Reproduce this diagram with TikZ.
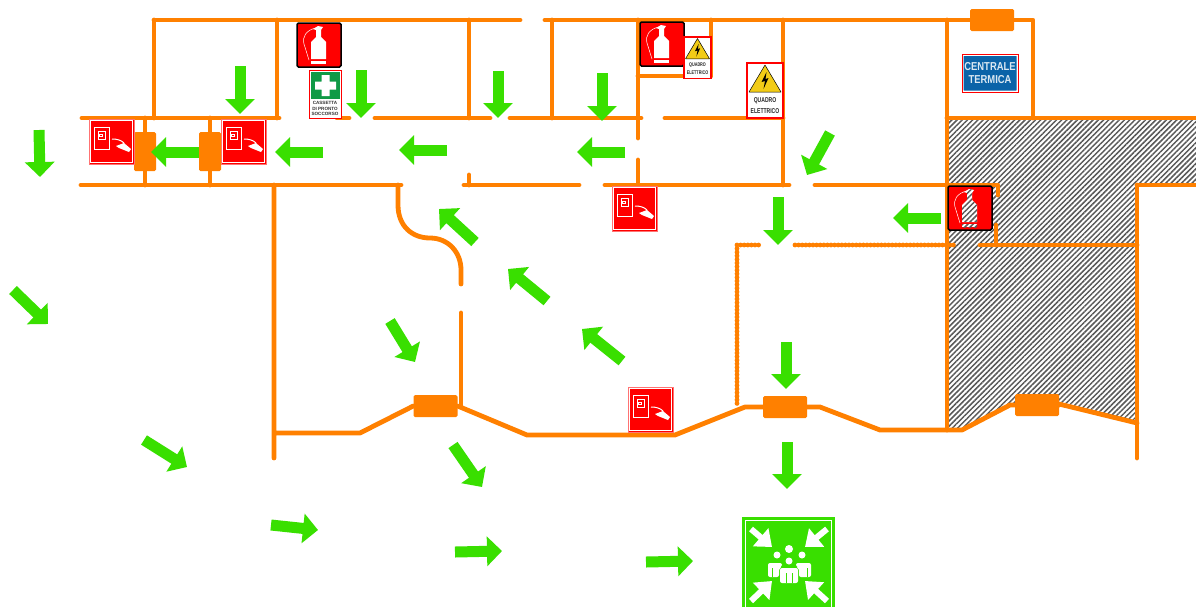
\documentclass[tikz,border=0pt]{standalone}
\usepackage{fontspec}
\setmainfont{Liberation Sans}
\usetikzlibrary{arrows.meta,patterns.meta}
\definecolor{wallorange}{HTML}{FF8000}
\definecolor{gogreen}{HTML}{39DF00}
\definecolor{signred}{HTML}{FF0000}
\definecolor{signblue}{HTML}{0A63A8}
\definecolor{aidgreen}{HTML}{0F9A46}
\definecolor{warnyellow}{HTML}{F2CC17}
\tikzset{
  wall/.style={draw=wallorange,line width=4.8pt,line cap=round,line join=round},
  beadwall/.style={wall,dash pattern=on 0pt off 3.6pt},
  door/.style={fill=wallorange,rounded corners=1.5pt,minimum width=44pt,minimum height=22pt,inner sep=0pt},
  sidedoor/.style={door,minimum width=22pt,minimum height=39pt},
  way/.style={draw=gogreen,line width=11pt,-{Triangle[length=15pt,width=29pt,sep=0pt]},gogreen},
  meet/.style={draw=white,line width=6pt,-{Triangle[length=15pt,width=23pt,sep=0pt]},white},
  hatched/.style={pattern={Lines[angle=45,distance=3.7pt,line width=1.5pt]},pattern color=black!65},
  ext body/.style={fill=white},
  pics/hose/.style={code={
    \draw[signred!55,fill=signred,line width=.6pt] (0,0) rectangle (45,45);
    \draw[white,line width=.7pt] (1.5,1.5) rectangle (43.5,43.5);
    \draw[white,line width=.6pt] (5,8) rectangle (20,30) (9,12) rectangle (16,20);
    \draw[white,line width=.6pt] (10.5,15) rectangle (13,17.5);
    \draw[white,line width=1pt] (23,20) .. controls (28,20) and (32,21) .. (35,24);
    \fill[white] (27,27) -- (35,24) -- (42,30) -- (40,33) -- (30,29) -- cycle;
  }},
  pics/extinguisher/.style={code={
    \draw[black,fill=signred,line width=1.5pt,rounded corners=1.5pt] (0,0) rectangle (44,44);
    \path[ext body] (14,36) -- (14,19) -- (19,14) -- (19,7) -- (16,6) -- (21,3) -- (26,4) -- (24,7) -- (24,14) -- (29,19) -- (29,36) -- cycle;
    \path[ext body] (14,38) rectangle (29,41);
    \draw[white,line width=.5pt] (19,5) .. controls (9,7) and (5,14) .. (7,21) -- (12,37);
  }},
  pics/aid/.style={code={
    \draw[signred,fill=white,line width=.8pt] (0,0) rectangle (32,48);
    \fill[aidgreen] (2,2) rectangle (31,29);
    \fill[white] (12.5,5) rectangle (20.5,26) (6,11.5) rectangle (27,19.5);
    \node[align=center,inner sep=0pt,font=\bfseries\fontsize{4.6}{5.1}\selectfont,text=black!80] (aidtext) at (16,38.5) {CASSETTA\\DI PRONTO\\SOCCORSO};
  }},
  pics/panel/.style={code={
    \draw[signred,fill=white,line width=1.3pt] (0,0) rectangle (36,55);
    \draw[black,fill=warnyellow,line width=.5pt,line join=round] (18,2) -- (34,29) -- (2,29) -- cycle;
    \fill[black] (19.5,9) -- (14.5,19) -- (18,18) -- (16.5,26) -- (21.5,15) -- (18.5,16) -- cycle;
    \node[align=center,inner sep=0pt,transform shape,xscale=.72,font=\bfseries\fontsize{7}{10.2}\selectfont,text=black!85] (paneltext) at (18,42.5) {QUADRO\\ELETTRICO};
  }},
}
\begin{document}
\begin{tikzpicture}[x=1pt,y=-1pt]
  \clip (0,0) rectangle (1196,606);
  \fill[white] (0,0) rectangle (1196,606);
  \path[hatched] (947,118) -- (1196,118) -- (1196,185) -- (1137,185) -- (1137,423) -- (1059,404) -- (1015,404) -- (962,430) -- (947,430) -- cycle;

  \node[door] (door1) at (435.5,406) {};
  \node[door] (door2) at (785,407) {};
  \node[door] (door3) at (1037,405) {};
  \node[door] (door4) at (992,20) {};
  \node[sidedoor] (door5) at (145,151.5) {};
  \node[sidedoor] (door6) at (210,151.5) {};

  \draw[wall] (154,20) -- (520,20) (545,20) -- (door4.west) (door4.east) -- (1033,20) -- (1033,118);
  \draw[wall] (154,20) -- (154,118) (277,20) -- (277,118) (469,20) -- (469,118) (552,20) -- (552,118);
  \draw[wall] (638,20) -- (638,138) (638,160) -- (638,185) (638,76) -- (684,76) (711,20) -- (711,76) (783,20) -- (783,185);
  \draw[wall] (82,118) -- (279,118) (337,118) -- (349,118) (375,118) -- (490,118) (510,118) -- (641,118) (665,118) -- (783,118);
  \draw[wall] (81,185) -- (401,185) (464,185) -- (579,185) (605,185) -- (789,185) (815,185) -- (998,185) -- (998,195);
  \draw[wall] (469,175) -- (469,185);
  \draw[wall] (145,118) -- (door5.north) (door5.south) -- (145,185) (210,118) -- (door6.north) (door6.south) -- (210,185);
  \draw[wall] (398,185) -- (398,205) .. controls (398,226) and (412,238) .. (430,238) .. controls (448,238) and (461,252) .. (461,270) -- (461,284);
  \draw[wall] (461,313) -- (461,405);
  \draw[wall] (274,185) -- (274,458) (274,433) -- (360,433) -- (door1.west) (door1.east) -- (527,435) -- (675,435) -- (745,407) -- (door2.west) (door2.east) -- (820,407) -- (880,430) -- (962,430) -- (1010,405) -- (door3.west) (door3.east) -- (1059,404) -- (1137,423);
  \draw[wall] (947,20) -- (947,430) (947,118) -- (1196,118) (1137,185) -- (1196,185) (1137,185) -- (1137,458);
  \draw[wall] (980,245) -- (1137,245) (996,225) -- (996,245);
  \draw[beadwall] (737,245) -- (760,245) (795,245) -- (955,245) (737,245) -- (737,407);

  \pic at (89,119) {hose};
  \pic at (221,119) {hose};
  \pic at (612,186) {hose};
  \pic at (628,387) {hose};
  \pic at (297,23) {extinguisher};
  \pic at (640,22) {extinguisher};
  \pic[ext body/.style={preaction={fill=white},hatched}] at (948,186) {extinguisher};
  \pic at (309,70) {aid};
  \pic[scale=.75] at (684,37) {panel};
  \pic at (747,63) {panel};

  \draw[signred,fill=white,line width=.8pt] (962,54.5) rectangle (1018,92);
  \fill[signblue,rounded corners=.5pt] (963.5,56) rectangle (1016.5,90.5);
  \node[inner sep=0pt,align=center,transform shape,xscale=.82,text=white!85!signblue,font=\bfseries\fontsize{11.5}{13}\selectfont] (boiler) at (990,73.2) {CENTRALE\\TERMICA};

  \fill[gogreen] (742,517) rectangle (835,610);
  \draw[white,line width=1.5pt] (745.5,520.5) rectangle (831.5,612);
  \draw[meet] (751,529) -- (772,547);
  \draw[meet] (827,529) -- (805,547);
  \draw[meet] (751,601) -- (772,581);
  \draw[meet] (827,601) -- (805,581);
  \fill[white] (789,549) circle (4) (777,555) circle (3.5) (802,555) circle (3.5) (789,561) circle (3.5);
  \fill[white,rounded corners=2pt] (768,577) -- (768,563) -- (782,563) -- (782,567) -- (779,568) -- (779,577) -- cycle;
  \fill[white,rounded corners=2pt] (811,577) -- (811,563) -- (796,563) -- (796,567) -- (799,568) -- (799,577) -- cycle;
  \fill[white,rounded corners=2pt] (780,583) -- (780,568) -- (798,568) -- (798,583) -- cycle;
  \draw[gogreen,line width=1pt] (786,583) -- (786,573) (792,583) -- (792,573) (772,577) -- (772,568) (807,577) -- (807,568);

  \foreach \ax/\ay/\bx/\by in {39/130/40/177,240/66/240/114,361/70/361/118,498/71/498/118,602/73/602/121,
    830/133/807/175,778/197/778/245,941/218/893/218,323/152/275/152,199/152/151/152,447/150/399/150,
    625/152/577/152,475/242/439/209,547/301/508/269,622/361/582/329,390/321/415/362,453/445/482/487,
    786/342/786/389,787/442/787/489,13/290/48/324,144/440/187/467,271/525/318/530,455/552/502/551,646/562/693/561}
    \draw[way] (\ax,\ay) -- (\bx,\by);
\end{tikzpicture}
\end{document}
